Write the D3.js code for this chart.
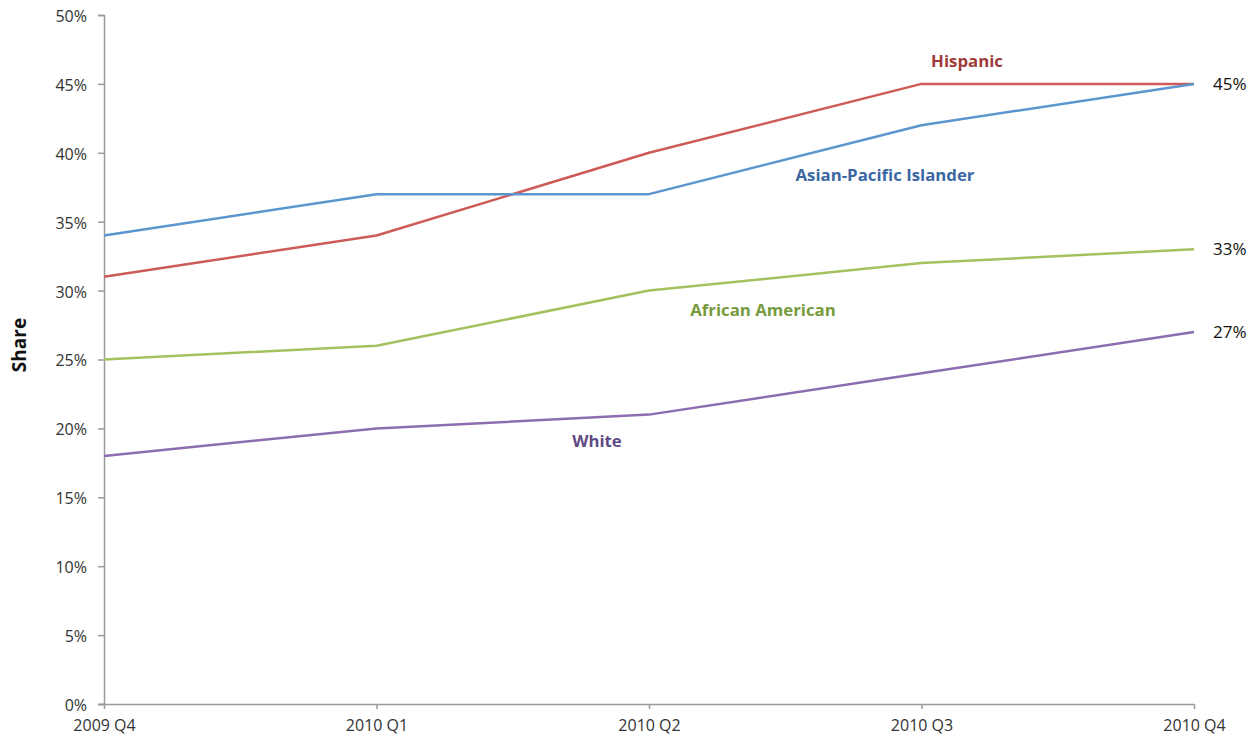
<!DOCTYPE html>
<html>
<head>
<meta charset="utf-8">
<script src="https://cdn.jsdelivr.net/npm/d3@7"></script>
<style>
  html, body { margin: 0; padding: 0; background: #fff; }
  svg { display: block; }
  .tick text { font-family: "Open Sans", "Noto Sans", sans-serif; font-size: 16px; fill: #333; }
</style>
</head>
<body>
<svg id="chart" width="1256" height="737"></svg>
<script>
// Quarters on the x axis
const quarters = ["2009 Q4", "2010 Q1", "2010 Q2", "2010 Q3", "2010 Q4"];

// Share per group, in percent
const hispanic = [31, 34, 40, 45, 45];
const asianPacific = [34, 37, 37, 42, 45];
const africanAmerican = [25, 26, 30, 32, 33];
const white = [18, 20, 21, 24, 27];

// Y axis ticks
const yTicks = [0, 5, 10, 15, 20, 25, 30, 35, 40, 45, 50];

const series = [
  { name: "Hispanic", values: hispanic, line: "#cd5b57", text: "#9e3a37", lx: 967, ly: 67 },
  { name: "Asian-Pacific Islander", values: asianPacific, line: "#5b96cf", text: "#3b67a3", lx: 885, ly: 181 },
  { name: "African American", values: africanAmerican, line: "#a3c15f", text: "#779a3c", lx: 763, ly: 316 },
  { name: "White", values: white, line: "#8c6db0", text: "#5f4a85", lx: 597, ly: 447 }
];

// Values printed at the right end of the lines
const endLabels = [45, 33, 27];

const svg = d3.select("#chart");
const plotLeft = 104, plotRight = 1194, plotTop = 15, plotBottom = 704;

const x = d3.scalePoint().domain(quarters).range([plotLeft, plotRight]);
const y = d3.scaleLinear().domain([0, 50]).range([plotBottom, plotTop]);

// Y axis
const yAxis = svg.append("g")
  .attr("transform", `translate(${plotLeft},0)`)
  .call(d3.axisLeft(y).tickValues(yTicks).tickFormat(d => d + "%").tickSizeOuter(0).tickSize(6).tickPadding(11));
yAxis.selectAll(".tick text").attr("dy", "0.4em");

// X axis
const xAxis = svg.append("g")
  .attr("transform", `translate(0,${plotBottom})`)
  .call(d3.axisBottom(x).tickSizeOuter(0).tickSize(5).tickPadding(11));

[yAxis, xAxis].forEach(a => {
  a.select(".domain").attr("stroke", "#9a9a9a").attr("stroke-width", 1.5);
  a.selectAll(".tick line").attr("stroke", "#9a9a9a").attr("stroke-width", 1.5);
});
xAxis.select(".domain").attr("d", `M${plotLeft - 6},0.5H${plotRight}`);

// Y axis title
svg.append("text")
  .attr("transform", `translate(26,345) rotate(-90)`)
  .attr("text-anchor", "middle")
  .style("font-family", "'Open Sans', 'Noto Sans', sans-serif")
  .style("font-size", "19px")
  .style("font-weight", "bold")
  .attr("fill", "#111")
  .text("Share");

const line = d3.line()
  .x((d, i) => x(quarters[i]))
  .y(d => y(d));

series.forEach(s => {
  svg.append("path")
    .datum(s.values)
    .attr("fill", "none")
    .attr("stroke", s.line)
    .attr("stroke-width", 2.5)
    .attr("stroke-linejoin", "round")
    .attr("d", line);

  svg.append("text")
    .attr("x", s.lx)
    .attr("y", s.ly)
    .attr("text-anchor", "middle")
    .style("font-family", "'Open Sans', 'Noto Sans', sans-serif")
    .style("font-size", "16.8px")
    .style("font-weight", "bold")
    .attr("fill", s.text)
    .text(s.name);
});

// End value labels
svg.selectAll(".endlabel")
  .data(endLabels)
  .join("text")
  .attr("class", "endlabel")
  .attr("x", plotRight + 19)
  .attr("y", d => y(d))
  .attr("dy", "0.35em")
  .style("font-family", "'Open Sans', 'Noto Sans', sans-serif")
  .style("font-size", "17px")
  .attr("fill", "#111")
  .text(d => d + "%");
</script>
</body>
</html>
